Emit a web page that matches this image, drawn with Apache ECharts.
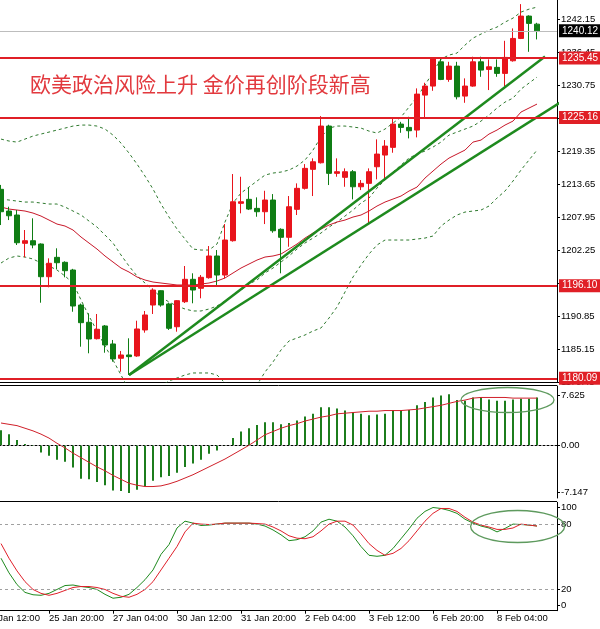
<!DOCTYPE html>
<html><head><meta charset="utf-8">
<script src="https://cdn.jsdelivr.net/npm/echarts@6/dist/echarts.min.js"></script>
<style>html,body{margin:0;padding:0;background:#fff;overflow:hidden;width:600px;height:629px;position:relative}
#c{position:absolute;left:-19px;top:0;width:619px;height:629px}</style>
</head><body><div id="c"></div>
<script>
// ---------- data (H4 bars, bar 0 = 24 Jan 20:00) ----------
const timeLabels = ['24 Jan 12:00','25 Jan 20:00','27 Jan 04:00','30 Jan 12:00','31 Jan 20:00','2 Feb 04:00','3 Feb 12:00','6 Feb 20:00','8 Feb 04:00'];
const timeLabelBars = [-2,6,14,22,30,38,46,54,62];

const opens = [1212.74,1208.99,1208.30,1203.41,1203.86,1203.29,1197.64,1200.99,1200.13,1198.80,1192.75,1189.77,1186.93,1189.13,1186.02,1183.55,1184.12,1183.95,1188.44,1192.75,1195.22,1192.93,1189.00,1193.32,1197.19,1195.64,1197.47,1201.22,1197.93,1203.86,1210.32,1211.01,1209.45,1208.87,1210.89,1205.83,1204.45,1209.28,1212.91,1216.19,1217.33,1223.67,1215.50,1214.81,1215.78,1213.18,1213.77,1216.64,1218.66,1219.99,1224.01,1223.44,1222.98,1229.02,1230.58,1234.77,1231.73,1234.03,1228.85,1230.58,1234.77,1233.46,1233.81,1232.77,1234.95,1238.81,1242.67,1241.28];
const closes = [1208.87,1208.17,1203.51,1203.86,1203.12,1197.64,1199.96,1200.06,1198.68,1192.58,1189.70,1186.88,1188.56,1185.84,1183.43,1184.12,1183.83,1188.61,1191.03,1195.34,1192.75,1188.73,1193.50,1197.19,1195.34,1197.54,1201.22,1197.93,1203.98,1210.59,1210.59,1209.33,1208.87,1210.89,1205.58,1204.45,1209.73,1212.91,1216.36,1217.50,1223.67,1215.50,1215.78,1215.78,1213.18,1213.77,1215.78,1218.83,1220.21,1224.01,1223.44,1222.86,1229.19,1230.58,1235.36,1231.73,1234.03,1228.73,1230.58,1234.77,1233.34,1233.91,1232.77,1235.53,1238.81,1242.67,1241.41,1240.12];
const lows = [1206.57,1207.43,1203.12,1200.99,1202.55,1193.15,1195.81,1198.92,1197.54,1191.59,1185.55,1184.41,1186.80,1184.51,1182.96,1181.23,1180.66,1183.80,1187.97,1191.20,1192.46,1188.44,1188.14,1193.10,1193.05,1193.91,1197.30,1196.21,1197.36,1203.70,1208.59,1209.16,1208.00,1206.74,1205.24,1198.23,1202.82,1208.30,1212.70,1211.58,1217.20,1213.48,1214.91,1213.18,1211.01,1212.61,1206.74,1214.46,1214.60,1219.06,1222.51,1221.54,1221.72,1225.17,1229.76,1231.61,1231.32,1228.28,1227.69,1230.46,1232.18,1229.89,1232.18,1230.58,1234.80,1238.70,1236.50,1238.64];
const highs = [1213.50,1209.73,1209.16,1205.71,1207.73,1203.40,1200.82,1202.55,1200.30,1199.00,1193.00,1191.32,1191.20,1189.30,1186.71,1184.81,1187.00,1190.04,1191.72,1195.64,1195.30,1193.15,1193.60,1199.49,1198.23,1197.93,1202.94,1202.25,1206.74,1215.38,1214.91,1213.08,1211.35,1212.49,1211.92,1206.00,1211.58,1213.77,1217.10,1218.09,1225.39,1223.90,1218.09,1216.36,1216.07,1214.34,1216.36,1221.37,1221.25,1225.00,1224.40,1225.27,1230.18,1231.15,1235.50,1235.36,1234.77,1234.77,1231.91,1235.65,1235.65,1235.19,1235.19,1238.40,1240.54,1244.74,1242.80,1241.51];

const bbUpper = [1221.42,1221.08,1220.90,1221.42,1221.94,1222.29,1222.63,1222.98,1223.32,1223.67,1223.84,1223.84,1223.67,1223.15,1222.11,1220.73,1219.00,1217.10,1215.03,1212.79,1210.20,1207.95,1205.88,1204.15,1202.42,1202.25,1202.25,1203.29,1207.09,1210.37,1212.10,1213.13,1214.17,1215.20,1215.55,1215.72,1216.07,1216.76,1217.80,1219.52,1221.77,1223.32,1223.67,1223.67,1223.50,1223.32,1222.80,1222.46,1223.15,1224.19,1225.22,1226.95,1228.68,1230.75,1232.99,1235.24,1235.93,1236.28,1237.66,1238.87,1239.56,1240.25,1240.77,1241.63,1242.32,1243.36,1243.87,1244.22];
const bbMiddle = [1211.06,1210.89,1210.71,1210.54,1210.54,1210.37,1210.20,1210.20,1209.68,1208.99,1208.30,1207.26,1206.22,1204.84,1203.46,1201.39,1199.49,1197.76,1196.55,1195.34,1194.13,1193.27,1192.58,1192.06,1191.72,1191.72,1192.06,1192.58,1193.44,1194.48,1195.34,1196.38,1197.07,1198.28,1199.14,1200.18,1201.22,1202.42,1203.46,1204.32,1205.19,1206.22,1207.09,1208.12,1209.16,1210.37,1211.23,1212.96,1214.34,1215.72,1216.93,1218.14,1218.83,1219.35,1220.04,1220.90,1222.11,1222.63,1223.15,1223.67,1224.53,1225.57,1226.78,1227.81,1228.50,1230.06,1231.09,1232.13];
const bbLower = [1200.01,1200.87,1201.22,1201.04,1200.70,1200.01,1199.49,1198.80,1197.76,1196.55,1193.62,1190.85,1188.26,1185.67,1183.25,1180.66,1178.07,1176.69,1176.69,1177.55,1178.76,1179.63,1180.14,1180.66,1181.01,1181.01,1181.01,1180.66,1179.28,1178.94,1178.94,1178.94,1178.94,1181.18,1182.91,1184.98,1186.54,1187.05,1187.57,1188.26,1188.78,1190.50,1192.41,1195.00,1197.59,1199.66,1201.56,1203.12,1203.98,1203.98,1203.98,1203.98,1204.15,1204.32,1204.67,1206.40,1207.43,1208.30,1208.81,1208.99,1209.16,1209.85,1211.23,1212.44,1214.17,1216.07,1217.80,1219.52];
const maRed = [1209.68,1209.33,1209.16,1208.99,1208.64,1208.12,1207.43,1206.74,1206.40,1205.71,1204.50,1203.46,1202.42,1201.22,1200.18,1199.14,1198.45,1197.59,1197.07,1196.72,1196.55,1196.38,1196.21,1196.21,1196.21,1196.38,1196.55,1196.90,1197.42,1198.28,1199.14,1199.83,1200.52,1201.04,1201.22,1201.56,1202.42,1203.29,1204.32,1205.19,1205.88,1206.57,1207.09,1207.43,1207.95,1208.30,1208.99,1209.85,1210.54,1211.06,1211.58,1212.44,1213.13,1214.69,1215.90,1217.10,1218.14,1218.83,1219.52,1220.90,1221.25,1222.29,1222.98,1223.84,1224.53,1226.09,1226.78,1227.47];

// trend lines: [bar index, price]
const trendUpper = [[16,1180.66],[68,1235.70]];
const trendLower = [[16,1180.66],[72,1229.56]];

const levelLines = [1235.45,1225.16,1196.10,1180.09];
const lastPrice = 1240.12;
const priceTicks = [1179.45,1185.15,1190.85,1196.55,1202.25,1207.95,1213.65,1219.35,1225.05,1230.75,1236.45,1242.15];

const macdHist = [2.3,1.7,0.8,0.2,-0.1,-1.1,-1.6,-2.2,-2.5,-3.4,-5.1,-5.2,-5.6,-6.1,-6.9,-7.0,-7.3,-6.8,-6.3,-5.4,-4.9,-4.7,-4.2,-3.3,-2.8,-2.2,-1.3,-0.8,0.05,1.1,2.1,2.6,3.1,3.5,3.5,3.2,3.4,3.8,4.4,4.8,5.8,5.8,5.6,5.3,5.0,4.8,4.6,4.7,4.8,5.4,5.3,5.4,6.1,6.6,7.3,7.6,7.8,6.9,6.8,7.3,7.3,7.0,6.8,6.8,7.0,7.1,7.1,7.3];
const macdSignal = [3.4,3.2,3.0,2.6,2.2,1.7,1.1,0.3,-0.4,-1.2,-1.9,-2.6,-3.3,-3.9,-4.6,-5.2,-5.8,-6.1,-6.3,-6.3,-6.2,-5.9,-5.5,-5.0,-4.5,-3.9,-3.3,-2.7,-2.1,-1.4,-0.7,0.0,0.8,1.6,2.1,2.6,3.0,3.3,3.7,4.0,4.3,4.5,4.8,4.9,5.0,5.1,5.2,5.2,5.3,5.3,5.3,5.4,5.5,5.7,5.9,6.1,6.4,6.7,6.9,7.2,7.3,7.3,7.3,7.3,7.2,7.2,7.2,7.2];
const macdTicks = [7.625,0,-7.147];

const stochK = [48.4,34.9,24.1,16.9,14.7,14.2,16.0,19.6,23.2,23.7,22.3,21.4,19.6,15.1,11.5,12.4,15.1,21.4,28.6,37.6,52.0,61.0,76.3,82.6,80.8,78.6,79.0,79.9,80.8,80.8,80.8,80.8,79.9,78.1,74.5,70.0,64.6,65.5,68.2,73.6,81.7,84.4,82.6,77.2,69.1,59.2,51.1,50.2,51.1,57.4,66.4,75.4,85.3,91.6,95.2,94.3,92.5,89.8,84.4,80.8,78.1,76.3,72.7,75.9,79.9,79.5,79.0,78.1];
const stochD = [61.9,48.4,36.7,26.8,19.6,16.0,14.2,16.0,18.7,21.4,22.3,22.3,21.4,19.6,16.0,13.3,12.4,15.1,19.6,26.8,37.6,48.4,59.2,72.7,80.8,79.9,79.5,79.9,80.8,80.8,80.8,80.8,80.4,79.9,77.2,73.6,69.1,66.9,66.4,68.2,73.6,79.9,82.6,82.6,79.0,70.9,61.9,55.6,51.1,52.9,57.4,64.6,73.6,82.6,89.8,94.3,94.3,91.6,86.2,81.7,79.0,77.2,75.0,75.0,76.3,79.9,79.0,78.1];
const stochLevels = [80,20];
const stochLabelPos = [95.5,80,20,5.3];
const stochLabelText = ['100','80','20','0'];

const title = '欧美政治风险上升 金价再创阶段新高';

// ---------- build ----------
// chart canvas is shifted 19px left of the page so that the first bars sit at the page edge
const SHIFT = 19;
const PAD_L = 2, N = 72;
const cats = Array.from({length:N},(_,k)=>'b'+(k-PAD_L));
const pad = arr => [...Array(PAD_L).fill('-'), ...arr, ...Array(N-PAD_L-arr.length).fill('-')];
const labelAt = k => { const j = timeLabelBars.indexOf(k-PAD_L); return j>=0 ? timeLabels[j] : ''; };
const candles = opens.map((o,i)=>[o, closes[i], lows[i], highs[i]]);

const RED = '#e8141c', GREEN = '#0f7d14', LEVEL = '#e01f26';
const FONT = 'Liberation Sans';
const GW = 576;

const baseX = (gi, extra) => Object.assign({
  type:'category', gridIndex:gi, data:cats, boundaryGap:true,
  axisLine:{show:true, lineStyle:{color:'#000', width:1}},
  axisTick:{show:false}, axisLabel:{show:false}, splitLine:{show:false}
}, extra||{});

const yBase = (gi, extra) => Object.assign({
  type:'value', gridIndex:gi, position:'right', scale:true,
  axisLine:{show:true, onZero:false, lineStyle:{color:'#000', width:1}},
  splitLine:{show:false}
}, extra||{});

const levelData = levelLines.map(v=>({
  yAxis:v,
  lineStyle:{color:LEVEL, width:2, type:'solid'},
  label:{show:true, position:'end', distance:2, formatter:v.toFixed(2), color:'#fff',
    backgroundColor:LEVEL, padding:[2,3,1,3], fontSize:10, fontFamily:FONT}
}));
levelData.push({
  yAxis:lastPrice,
  lineStyle:{color:'#bdbdbd', width:1, type:'solid'},
  label:{show:true, position:'end', distance:2, formatter:lastPrice.toFixed(2), color:'#fff',
    backgroundColor:'#000', padding:[2,3,1,3], fontSize:10, fontFamily:FONT}
});

const option = {
  animation:false,
  backgroundColor:'#fff',
  textStyle:{fontFamily:FONT},
  grid:[
    {left:0, width:GW, top:0, height:382},
    {left:0, width:GW, top:386, height:112},
    {left:0, width:GW, top:502.3, height:108.4}
  ],
  xAxis:[
    baseX(0),
    baseX(1),
    baseX(2, {
      axisTick:{show:true, alignWithLabel:true, length:3, interval:(i)=>labelAt(i)!=='' , lineStyle:{color:'#000'}},
      axisLabel:{show:true, interval:(i)=>labelAt(i)!=='', formatter:(v,i)=>labelAt(i),
        align:'left', margin:3, fontSize:9.5, color:'#000', fontFamily:FONT}
    }),
    {type:'value', gridIndex:0, min:-PAD_L-0.5, max:N-PAD_L-0.5, show:false}
  ],
  yAxis:[
    yBase(0, {min:1179.45, max:1245.45,
      axisTick:{show:true, length:3, customValues:priceTicks, lineStyle:{color:'#000'}},
      axisLabel:{show:true, customValues:priceTicks, formatter:v=>Number(v).toFixed(2),
        fontSize:9.5, color:'#000', margin:4, fontFamily:FONT}}),
    yBase(1, {min:-8.05, max:9.05,
      axisTick:{show:true, length:3, customValues:macdTicks, lineStyle:{color:'#000'}},
      axisLabel:{show:true, customValues:macdTicks, formatter:v=> (Math.abs(v)<1e-9 ? '0.00' : String(v)),
        fontSize:9.5, color:'#000', margin:4, fontFamily:FONT}}),
    yBase(2, {min:0, max:100,
      axisTick:{show:true, length:3, customValues:stochLabelPos, lineStyle:{color:'#000'}},
      axisLabel:{show:true, customValues:stochLabelPos,
        formatter:v=>{ const j = stochLabelPos.findIndex(p=>Math.abs(p-v)<1e-6); return j>=0?stochLabelText[j]:''; },
        fontSize:9.5, color:'#000', margin:4, fontFamily:FONT}})
  ],
  series:[
    {type:'line', name:'bbUpper', xAxisIndex:0, yAxisIndex:0, data:pad(bbUpper), symbol:'none', z:2,
      lineStyle:{color:'#2f7a2f', width:1, type:[3,3]}},
    {type:'line', name:'bbMiddle', xAxisIndex:0, yAxisIndex:0, data:pad(bbMiddle), symbol:'none', z:2,
      lineStyle:{color:'#2f7a2f', width:1, type:[3,3]}},
    {type:'line', name:'bbLower', xAxisIndex:0, yAxisIndex:0, data:pad(bbLower), symbol:'none', z:2,
      lineStyle:{color:'#2f7a2f', width:1, type:[3,3]}},
    {type:'line', name:'ma', xAxisIndex:0, yAxisIndex:0, data:pad(maRed), symbol:'none', z:2,
      lineStyle:{color:'#c8182a', width:1}},
    {type:'candlestick', xAxisIndex:0, yAxisIndex:0, data:pad(candles), barWidth:5, z:3,
      itemStyle:{color:RED, color0:GREEN, borderColor:RED, borderColor0:GREEN, borderWidth:1},
      markLine:{silent:true, symbol:'none', animation:false, data:levelData}},
    {type:'line', name:'trendUpper', xAxisIndex:3, yAxisIndex:0, data:trendUpper, symbol:'none', z:4,
      lineStyle:{color:'#1e8a1e', width:2.5}},
    {type:'line', name:'trendLower', xAxisIndex:3, yAxisIndex:0, data:trendLower, symbol:'none', z:4,
      lineStyle:{color:'#1e8a1e', width:2.5}},
    {type:'bar', name:'macd', xAxisIndex:1, yAxisIndex:1, data:pad(macdHist), barWidth:2,
      itemStyle:{color:'#1c7d1c'},
      markLine:{silent:true, symbol:'none', label:{show:false},
        data:[{yAxis:0, lineStyle:{color:'#9a9a9a', width:1, type:[2,2]}}]}},
    {type:'line', name:'signal', xAxisIndex:1, yAxisIndex:1, data:pad(macdSignal), symbol:'none',
      lineStyle:{color:'#d0202a', width:1}},
    {type:'line', name:'stochK', xAxisIndex:2, yAxisIndex:2, data:pad(stochK), symbol:'none',
      lineStyle:{color:'#1e8a1e', width:1},
      markLine:{silent:true, symbol:'none', label:{show:false},
        data:stochLevels.map(v=>({yAxis:v, lineStyle:{color:'#a0a0a0', width:1, type:[3,3]}}))}},
    {type:'line', name:'stochD', xAxisIndex:2, yAxisIndex:2, data:pad(stochD), symbol:'none',
      lineStyle:{color:'#e0202a', width:1}}
  ],
  graphic:[
    {type:'text', left:30+SHIFT, top:74, z:50,
      style:{text:title, fill:'#e2393e', font:'21px "Noto Sans CJK SC"'}},
    {type:'line', shape:{x1:SHIFT, y1:385.5, x2:GW, y2:385.5}, style:{stroke:'#000', lineWidth:1}, z:50},
    {type:'line', shape:{x1:SHIFT, y1:501.5, x2:GW, y2:501.5}, style:{stroke:'#000', lineWidth:1}, z:50},
    {type:'ellipse', shape:{cx:507.5+SHIFT, cy:400, rx:46.5, ry:12.5}, style:{fill:'none', stroke:'#5e9a5e', lineWidth:1.3}, z:50},
    {type:'ellipse', shape:{cx:517.6+SHIFT, cy:526.5, rx:47, ry:16}, style:{fill:'none', stroke:'#5e9a5e', lineWidth:1.3}, z:50}
  ]
};

const chart = echarts.init(document.getElementById('c'), null, {renderer:'canvas'});
chart.setOption(option);
</script>
</body></html>
